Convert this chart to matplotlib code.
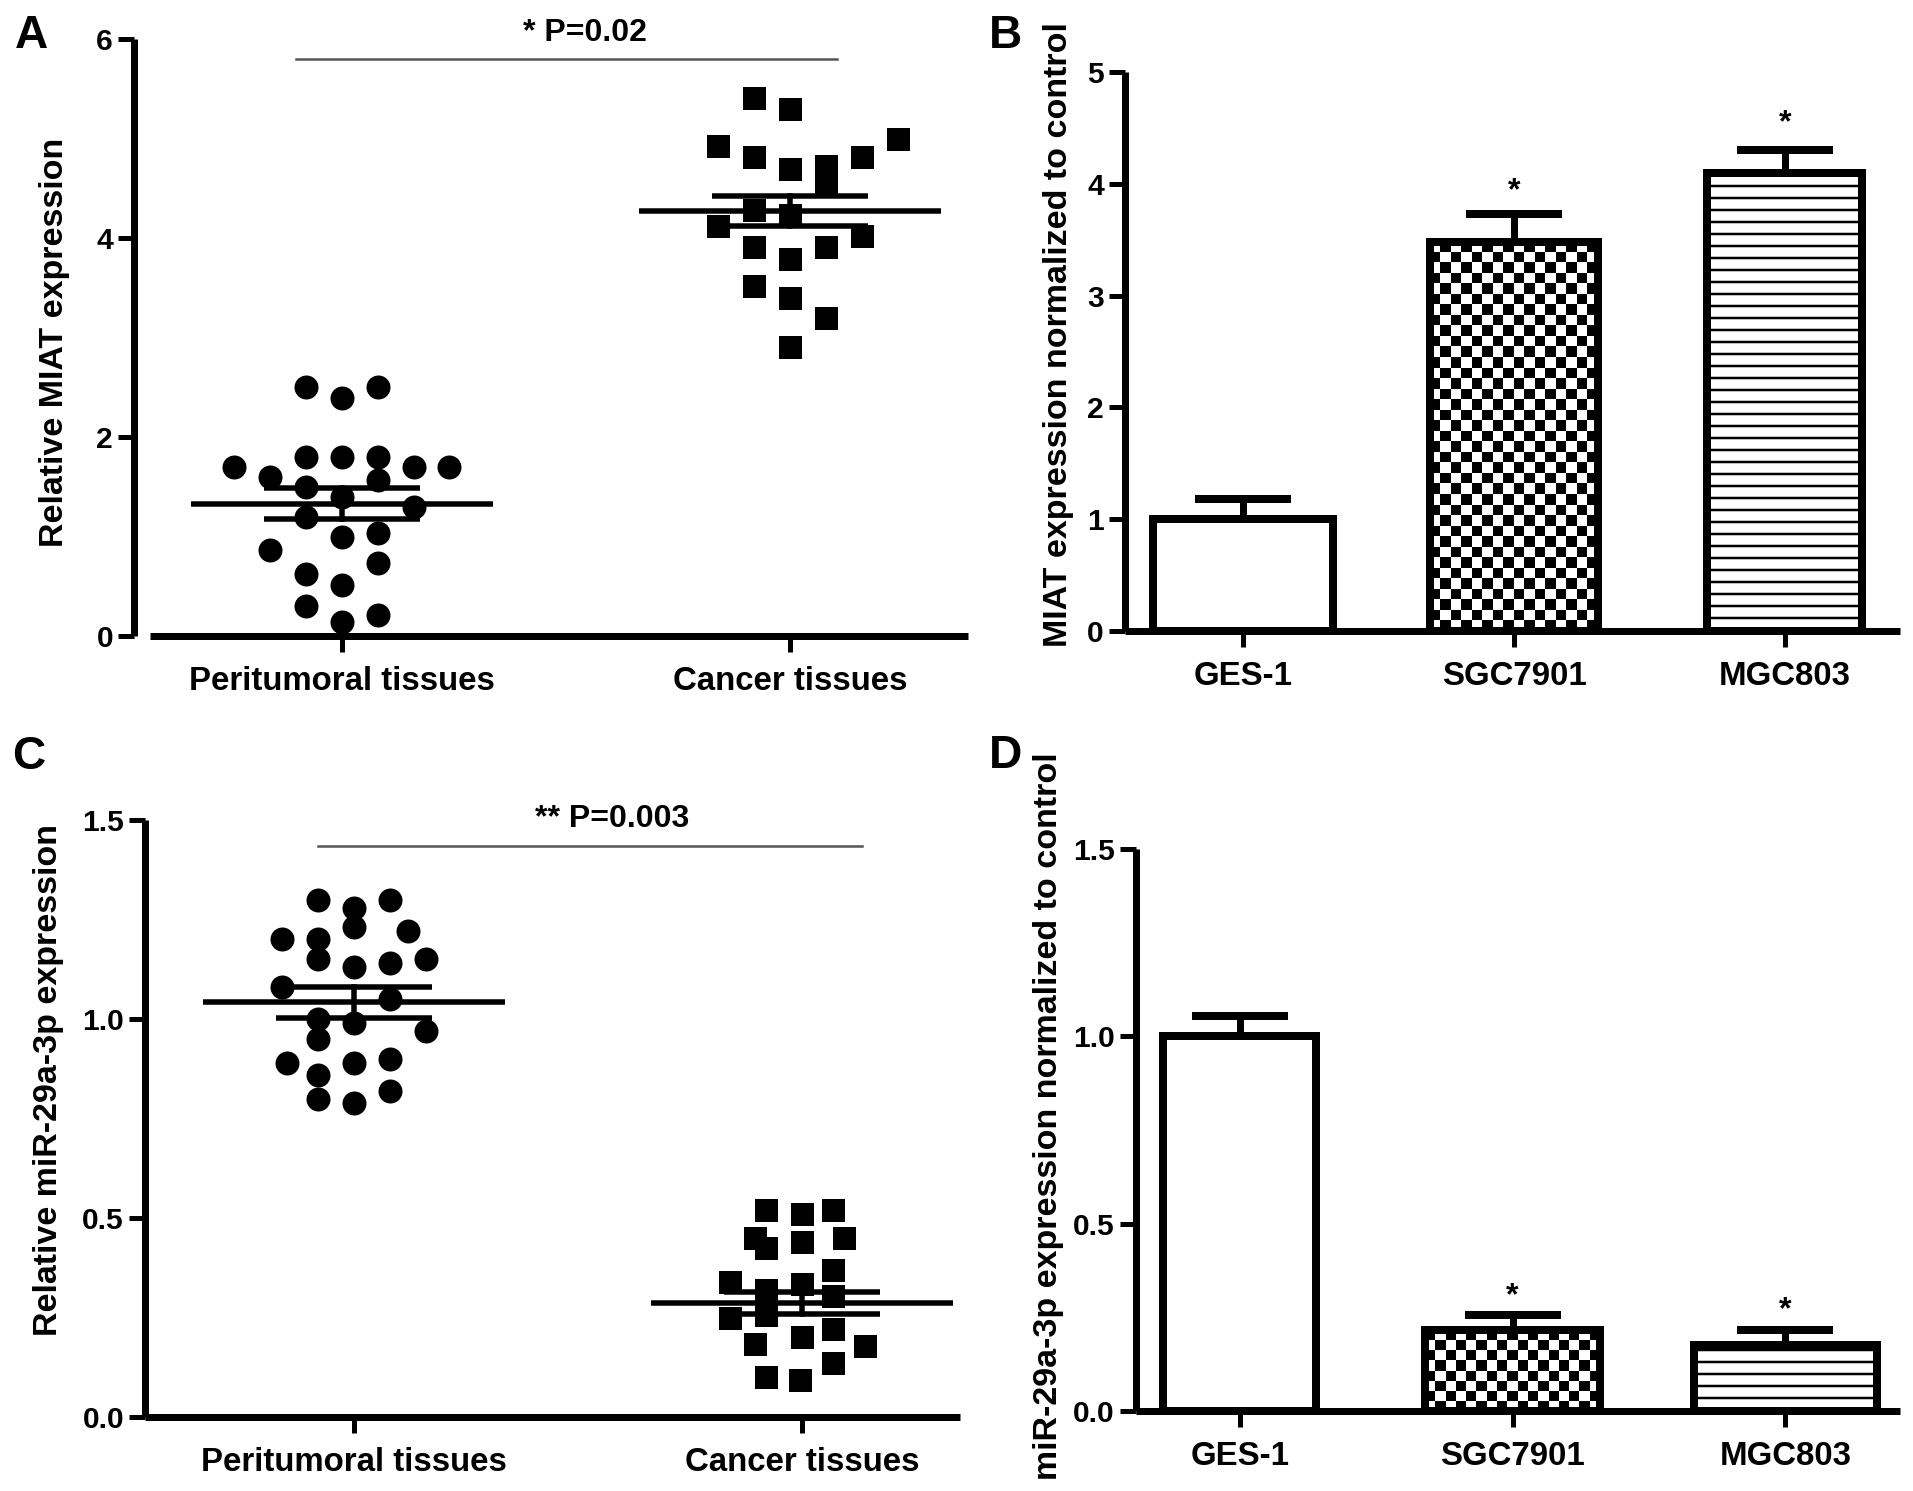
import numpy as np
import matplotlib
matplotlib.use("Agg")
import matplotlib.pyplot as plt

plt.rcParams['font.family'] = ['Liberation Sans', 'DejaVu Sans']
plt.rcParams['font.weight'] = 'bold'
plt.rcParams['hatch.linewidth'] = 2.5

# === data ===
groups = ['Peritumoral tissues', 'Cancer tissues']
cells = ['GES-1', 'SGC7901', 'MGC803']

# panel A: relative MIAT expression (tissues)
a_peri_dx = [-0.08, 0.08, 0.0, -0.24, -0.08, 0.0, 0.08, 0.16, 0.24, -0.16, -0.08, 0.08,
             0.0, 0.16, -0.08, 0.0, 0.08, -0.16, 0.08, -0.08, 0.0, -0.08, 0.08, 0.0]
a_peri = [2.50, 2.50, 2.39, 1.70, 1.80, 1.80, 1.80, 1.70, 1.70, 1.60, 1.50, 1.57,
          1.40, 1.30, 1.20, 1.00, 1.04, 0.86, 0.73, 0.62, 0.51, 0.30, 0.21, 0.14]
a_canc_dx = [-0.08, 0.0, 0.24, -0.16, -0.08, 0.16, 0.0, 0.08, 0.08, -0.08, 0.0, -0.16,
             0.16, -0.08, 0.08, 0.0, -0.08, 0.0, 0.08, 0.0]
a_canc = [5.41, 5.30, 5.00, 4.92, 4.81, 4.81, 4.69, 4.72, 4.55, 4.28, 4.23, 4.12,
          4.02, 3.91, 3.91, 3.79, 3.52, 3.40, 3.20, 2.90]
a_mean = [1.33, 4.27]
a_sem = [0.155, 0.15]

# panel C: relative miR-29a-3p expression (tissues)
c_peri_dx = [-0.08, 0.08, 0.0, 0.0, -0.16, -0.08, 0.12, -0.08, 0.0, 0.08, 0.16, -0.16,
             0.08, -0.08, 0.0, 0.16, -0.08, -0.15, 0.0, 0.08, -0.08, 0.08, -0.08, 0.0]
c_peri = [1.30, 1.30, 1.28, 1.23, 1.20, 1.20, 1.22, 1.15, 1.13, 1.14, 1.15, 1.08,
          1.05, 1.00, 0.99, 0.97, 0.95, 0.89, 0.89, 0.90, 0.86, 0.82, 0.80, 0.79]
c_canc_dx = [-0.08, 0.0, 0.07, -0.105, -0.08, 0.0, 0.095, 0.07, -0.16, -0.08, 0.0, 0.07,
             -0.16, -0.08, 0.07, 0.0, -0.105, 0.14, 0.07, -0.08, -0.005]
c_canc = [0.52, 0.51, 0.52, 0.45, 0.425, 0.44, 0.45, 0.37, 0.34, 0.32, 0.335, 0.305,
          0.25, 0.257, 0.22, 0.20, 0.184, 0.178, 0.136, 0.10, 0.094]
c_mean = [1.042, 0.287]
c_sem = [0.039, 0.027]

# panel B / D: cell lines
b_vals = [1.0, 3.48, 4.10]
b_err = [0.18, 0.25, 0.20]
d_vals = [1.0, 0.215, 0.175]
d_err = [0.053, 0.042, 0.040]

p_text = ['* P=0.02', '** P=0.003']

# === styles ===
W, H = 1913, 1491
DPI = 72
BLACK = 'black'
SPINE = 7
TICK_FS = 30
CAT_FS = 33
LAB_FS = 34


def px_axes(l, t, r, b):
    return [l / W, 1 - b / H, (r - l) / W, (b - t) / H]


def style_axes(ax):
    for s in ['top', 'right']:
        ax.spines[s].set_visible(False)
    for s in ['left', 'bottom']:
        ax.spines[s].set_linewidth(SPINE)
        ax.spines[s].set_capstyle('butt')
    ax.tick_params(axis='both', direction='out', length=16, width=5,
                   labelsize=TICK_FS, colors=BLACK, pad=5)
    ax.tick_params(axis='x', labelsize=CAT_FS, pad=14)


def checker(ax, bar, size=10.5):
    x0, y0 = bar.get_x(), bar.get_y()
    x1, y1 = x0 + bar.get_width(), y0 + bar.get_height()
    p0 = ax.transData.transform((x0, y0))
    p1 = ax.transData.transform((x1, y1))
    nx = max(1, int(round(abs(p1[0] - p0[0]) / size)))
    ny = max(1, int(round(abs(p1[1] - p0[1]) / size)))
    arr = np.indices((ny, nx)).sum(axis=0) % 2
    im = ax.imshow(arr, cmap='gray_r', extent=[x0, x1, y0, y1], aspect='auto',
                   interpolation='nearest', zorder=2, origin='lower')
    im.set_clip_path(bar)


def dot_panel(ax, xr, ylim, peri, peri_dx, canc, canc_dx, mean, sem, ticks, fmt):
    style_axes(ax)
    ax.set_xlim(*xr)
    ax.set_ylim(*ylim)
    ax.scatter(np.array(peri_dx) + 0, peri, s=24 ** 2, marker='o', color=BLACK,
               linewidths=0, clip_on=False, zorder=3)
    ax.scatter(np.array(canc_dx) + 1, canc, s=23 ** 2, marker='s', color=BLACK,
               linewidths=0, clip_on=False, zorder=3)
    for i in range(2):
        ax.plot([i - 0.337, i + 0.337], [mean[i]] * 2, color=BLACK, lw=5.5,
                solid_capstyle='butt', zorder=4)
        for y in (mean[i] - sem[i], mean[i] + sem[i]):
            ax.plot([i - 0.174, i + 0.174], [y] * 2, color=BLACK, lw=5.5,
                    solid_capstyle='butt', zorder=4)
        ax.plot([i, i], [mean[i] - sem[i], mean[i] + sem[i]], color=BLACK, lw=5.5,
                zorder=4)
    ax.set_xticks([0, 1])
    ax.set_xticklabels(groups)
    ax.set_yticks(ticks)
    ax.set_yticklabels([fmt.format(t) for t in ticks])


def bar_panel(ax, xr, ylim, vals, err, widths, ticks, fmt, star_y):
    style_axes(ax)
    ax.set_xlim(*xr)
    ax.set_ylim(*ylim)
    x = np.arange(len(vals))
    ax.errorbar(x, vals, yerr=[[0] * len(vals), err], fmt='none', ecolor=BLACK,
                elinewidth=7, capsize=48, capthick=8, zorder=1)
    bars = ax.bar(x, vals, width=widths, facecolor='none', edgecolor=BLACK,
                  linewidth=8, zorder=3)
    bars[0].set_facecolor('white')
    bars[2].set_hatch('-')
    checker(ax, bars[1])
    ax.set_xlim(*xr)
    ax.set_ylim(*ylim)
    for i in (1, 2):
        ax.text(i, star_y[i - 1], '*', ha='center', va='center', fontsize=32,
                fontweight='bold')
    ax.set_xticks(x)
    ax.set_xticklabels(cells)
    ax.set_yticks(ticks)
    ax.set_yticklabels([fmt.format(t) for t in ticks])


fig = plt.figure(figsize=(W / DPI, H / DPI), dpi=DPI)

# A
axA = fig.add_axes(px_axes(134, 39, 968, 636))
dot_panel(axA, (-0.464, 1.397), (0, 6), a_peri, a_peri_dx, a_canc, a_canc_dx,
          a_mean, a_sem, [0, 2, 4, 6], '{:g}')
axA.spines['bottom'].set_bounds(-0.429, 1.397)
axA.plot([-0.102, 1.104], [5.80, 5.80], color='#555555', lw=2.5, clip_on=False)
axA.text(0.542, 6.06, p_text[0], ha='center', va='center', fontsize=32)

# B
axB = fig.add_axes(px_axes(1125, 72, 1900, 631))
bar_panel(axB, (-0.436, 2.425), (0, 5), b_vals, b_err, [0.665, 0.617, 0.573],
          [0, 1, 2, 3, 4, 5], '{:g}', [3.93, 4.54])

# C
axC = fig.add_axes(px_axes(145, 820, 960, 1417))
dot_panel(axC, (-0.467, 1.353), (0, 1.5), c_peri, c_peri_dx, c_canc, c_canc_dx,
          c_mean, c_sem, [0, 0.5, 1.0, 1.5], '{:.1f}')
axC.plot([-0.08, 1.134], [1.435, 1.435], color='#555555', lw=2.5, clip_on=False)
axC.text(0.576, 1.503, p_text[1], ha='center', va='center', fontsize=32)

# D
axD = fig.add_axes(px_axes(1136, 849, 1900, 1411))
bar_panel(axD, (-0.38, 2.42), (0, 1.5), d_vals, d_err, [0.561, 0.639, 0.672],
          [0, 0.5, 1.0, 1.5], '{:.1f}', [0.305, 0.27])

# y labels
fig.text(55 / W, 1 - 342 / H, 'Relative MIAT expression', rotation=90,
         ha='center', va='center', fontsize=LAB_FS)
fig.text(1058 / W, 1 - 335 / H, 'MIAT expression normalized to control', rotation=90,
         ha='center', va='center', fontsize=LAB_FS)
fig.text(49 / W, 1 - 1080 / H, 'Relative miR-29a-3p expression', rotation=90,
         ha='center', va='center', fontsize=LAB_FS)
fig.text(1048 / W, 1 - 1116 / H, 'miR-29a-3p expression normalized to control',
         rotation=90, ha='center', va='center', fontsize=LAB_FS)

# panel letters
for lab, (px, py) in zip('ABCD', [(31, 36), (1006, 36), (29, 757), (1006, 756)]):
    fig.text(px / W, 1 - py / H, lab, ha='center', va='center', fontsize=46,
             fontweight='bold')

fig.savefig('out.png', dpi=DPI)
